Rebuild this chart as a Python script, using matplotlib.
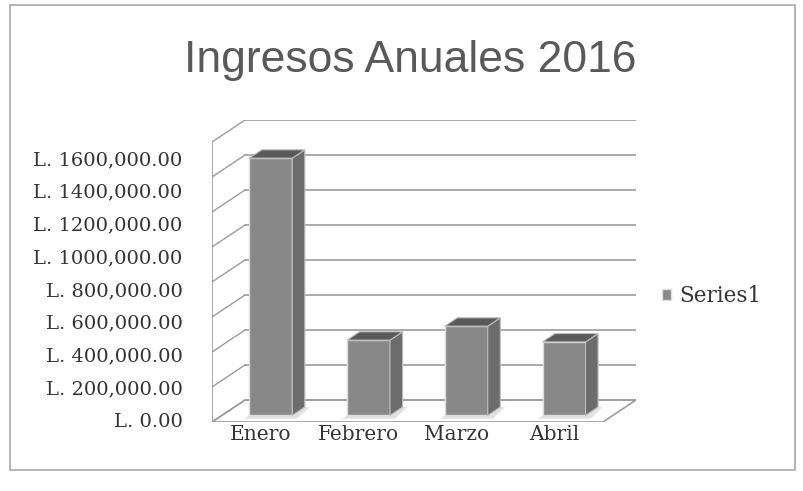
import numpy
import matplotlib
matplotlib.use("Agg")
import matplotlib.pyplot as plt
from matplotlib.patches import Polygon, Rectangle

# datos
meses = ["Enero", "Febrero", "Marzo", "Abril"]
ingresos = [1470000, 430000, 510000, 420000]
ticks = [0, 200000, 400000, 600000, 800000, 1000000, 1200000, 1400000, 1600000]
tick_labels = ["L. 0.00", "L. 200,000.00", "L. 400,000.00", "L. 600,000.00",
               "L. 800,000.00", "L. 1000,000.00", "L. 1200,000.00",
               "L. 1400,000.00", "L. 1600,000.00"]
serie = "Series1"
titulo = "Ingresos Anuales 2016"

W, H = 804, 491
fig = plt.figure(figsize=(W / 100, H / 100), dpi=100)

# profundidad del "3d" (en px) pasada a unidades de datos
px_x = 97.75              # px por categoria
px_y = 17.5 / 100000      # px por unidad de valor
DX = 33 / px_x
DY = 22 / px_y
vmax = ticks[-1]

x0, y0 = 212, 422         # esquina frontal izquierda del piso
x1 = x0 + (len(meses) + DX) * px_x
y1 = y0 - (vmax + DY) * px_y
ax = fig.add_axes([x0 / W, (H - y0) / H, (x1 - x0) / W, (y0 - y1) / H])
ax.set_xlim(-0.5, len(meses) - 0.5 + DX)
ax.set_ylim(0, vmax + DY)
ax.axis("off")

gcol = "#9c9c9c"
xl, xr = -0.5, len(meses) - 0.5

# pared del fondo + pared izquierda
for v in ticks:
    ax.plot([xl + DX, xr + DX], [v + DY, v + DY], color=gcol, lw=1.2, zorder=1)
    ax.plot([xl, xl + DX], [v, v + DY], color=gcol, lw=1.0, zorder=1)
ax.plot([xl, xl], [0, vmax], color=gcol, lw=1.2, zorder=1)

# piso
piso = Polygon([(xl, 0), (xr, 0), (xr + DX, DY), (xl + DX, DY)], closed=True,
               fill=False, ec=gcol, lw=1.2, zorder=1)
ax.add_patch(piso)

# barras
bw = 0.44
d0, d1 = 0.30, 0.68
xs = numpy.arange(len(meses)) + d0 * DX
base = d0 * DY
dd_x = (d1 - d0) * DX
dd_y = (d1 - d0) * DY

# sombra clara en el piso
for xc in xs:
    sombra = Polygon([(xc - bw / 2 - 0.05, base - 0.15 * DY), (xc + bw / 2 + 0.05, base - 0.15 * DY),
                      (xc + bw / 2 + dd_x + 0.05, base + dd_y), (xc - bw / 2 + dd_x, base + dd_y)],
                     closed=True, fc="#e2e2e2", ec="none", zorder=2)
    ax.add_patch(sombra)

bars = ax.bar(xs, ingresos, width=bw, bottom=base, color="#888888",
              edgecolor="#dcdcdc", lw=1.0, zorder=3, label=serie)
for xc, v in zip(xs, ingresos):
    xa, xb = xc - bw / 2, xc + bw / 2
    top = base + v
    lado = Polygon([(xb, base), (xb + dd_x, base + dd_y), (xb + dd_x, top + dd_y), (xb, top)],
                   closed=True, fc="#6c6c6c", ec="#bdbdbd", lw=0.8, zorder=3)
    tapa = Polygon([(xa, top), (xb, top), (xb + dd_x, top + dd_y), (xa + dd_x, top + dd_y)],
                   closed=True, fc="#5a5a5a", ec="#bdbdbd", lw=0.8, zorder=3)
    ax.add_patch(lado)
    ax.add_patch(tapa)

# etiquetas de categorias
for i, m in enumerate(meses):
    ax.text(i, -(3 / px_y), m, ha="center", va="top", fontsize=14.5,
            family="DejaVu Serif", color="#333333")

# eje de valores (etiquetas)
ly0, ly1 = 420, 158
lab = fig.add_axes([195 / W, (H - ly0) / H, 0.001, (ly0 - ly1) / H])
lab.set_ylim(0, vmax)
lab.set_yticks(ticks)
lab.set_yticklabels(tick_labels, family="DejaVu Serif", fontsize=14, color="#333333")
lab.tick_params(axis="y", length=0, pad=9)
lab.set_xticks([])
for s in lab.spines.values():
    s.set_visible(False)
lab.patch.set_alpha(0)

# leyenda
fig.legend(handles=[bars], labels=[serie], loc="center left",
           bbox_to_anchor=(643 / W, 1 - 296 / H), frameon=False,
           handlelength=0.42, handleheight=0.42, handletextpad=0.35,
           prop={"family": "DejaVu Serif", "size": 15.5}, labelcolor="#333333")

# titulo
fig.text(410 / W, 1 - 72 / H, titulo, ha="center", va="baseline", fontsize=32,
         family="Liberation Sans", color="#595959")

# marco
fig.patches.append(Rectangle((10 / W, 1 - 470 / H), 785 / W, 465 / H,
                             transform=fig.transFigure, fill=False,
                             ec="#a8a8a8", lw=1.2))

fig.savefig("out.png", dpi=100)
